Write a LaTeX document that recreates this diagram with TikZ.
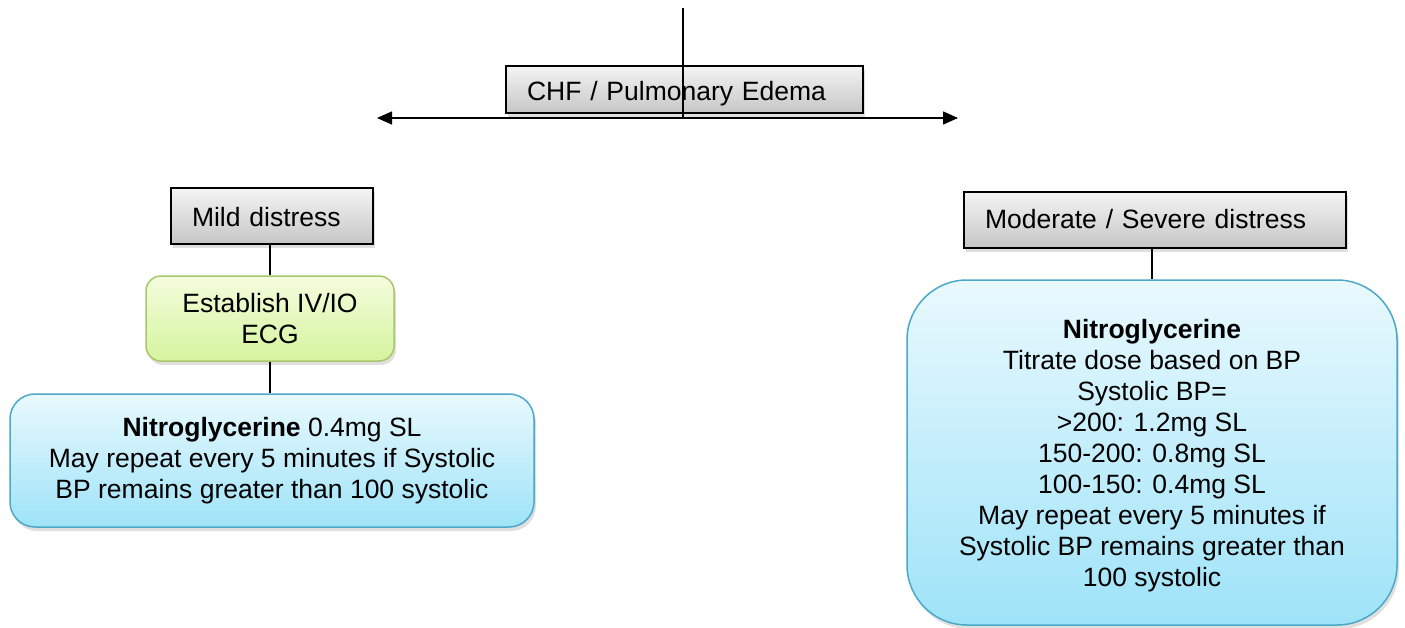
\documentclass[tikz,border=0pt]{standalone}
\usepackage{fontspec}
\setmainfont{Liberation Sans}
\usetikzlibrary{shadows,arrows.meta}
\definecolor{grayTop}{HTML}{F4F4F4}
\definecolor{grayBot}{HTML}{C6C6C6}
\definecolor{greenTop}{HTML}{F4FCDD}
\definecolor{greenBot}{HTML}{D5F59E}
\definecolor{greenLine}{HTML}{A8C66C}
\definecolor{blueTop}{HTML}{E9F9FE}
\definecolor{blueBot}{HTML}{9EE3F8}
\definecolor{blueLine}{HTML}{4BA9C8}
\tikzset{
  txt/.style={font=\fontsize{26.5}{31}\selectfont, text=black},
  graybox/.style={txt, draw=black, line width=2pt, top color=grayTop, bottom color=grayBot,
    rectangle, inner xsep=21pt, inner ysep=0pt, align=left,
    drop shadow={shadow xshift=2pt, shadow yshift=-4pt, opacity=0.25}},
  greenbox/.style={txt, draw=greenLine, line width=1.5pt, top color=greenTop, bottom color=greenBot,
    rounded corners=15pt, align=center, inner sep=0pt,
    drop shadow={shadow xshift=2pt, shadow yshift=-4pt, opacity=0.25}},
  bluebox/.style={txt, draw=blueLine, line width=1.5pt, top color=blueTop, bottom color=blueBot,
    align=center, inner sep=0pt,
    drop shadow={shadow xshift=2pt, shadow yshift=-4pt, opacity=0.25}},
  conn/.style={draw=black, line width=1.5pt},
}
\begin{document}
\begin{tikzpicture}[x=1pt, y=-1pt]
\useasboundingbox (0,0) rectangle (1405,627);
% top box
\node[graybox, minimum width=357pt, minimum height=47pt, text width=315pt, text height=24pt, text depth=3pt] (chf) at (684.5,89.5) {CHF / Pulmonary Edema};
\coordinate (top) at (683,8);
\coordinate (junc) at (683,117);
\coordinate (al) at (377,118);
\coordinate (ar) at (958,118);
\draw[conn, {Triangle[length=15pt,width=13pt]}-{Triangle[length=15pt,width=13pt]}] (al) -- (ar);
\draw[conn] (top) -- (junc);
% left branch
\node[graybox, minimum width=202pt, minimum height=56pt, text width=160pt, text height=22pt, text depth=2pt] (mild) at (272,216) {Mild distress};
\node[greenbox, minimum width=248pt, minimum height=85pt] (est) at (270,318.5) {Establish IV/IO\\ECG};
\node[bluebox, rounded corners=25pt, minimum width=524pt, minimum height=133pt] (nitroL) at (272,460.5)
  {\textbf{Nitroglycerine} 0.4mg SL\\May repeat every 5 minutes if Systolic\\BP remains greater than 100 systolic};
\draw[conn] (mild.south -| est.north) -- (est.north);
\draw[conn] (est.south) -- (est.south |- nitroL.north);
% right branch
\node[graybox, minimum width=382pt, minimum height=56pt, text width=340pt, text height=20pt, text depth=3pt] (mod) at (1155,220) {Moderate / Severe distress};
\node[bluebox, rounded corners=60pt, minimum width=490pt, minimum height=345pt] (nitroR) at (1152,452.5)
  {\rule{0pt}{26pt}\textbf{Nitroglycerine}\\Titrate dose based on BP\\Systolic BP=\\>200: 1.2mg SL\\150-200: 0.8mg SL\\100-150: 0.4mg SL\\May repeat every 5 minutes if\\Systolic BP remains greater than\\100 systolic};
\draw[conn] (nitroR.north |- mod.south) -- (nitroR.north);
\end{tikzpicture}
\end{document}
